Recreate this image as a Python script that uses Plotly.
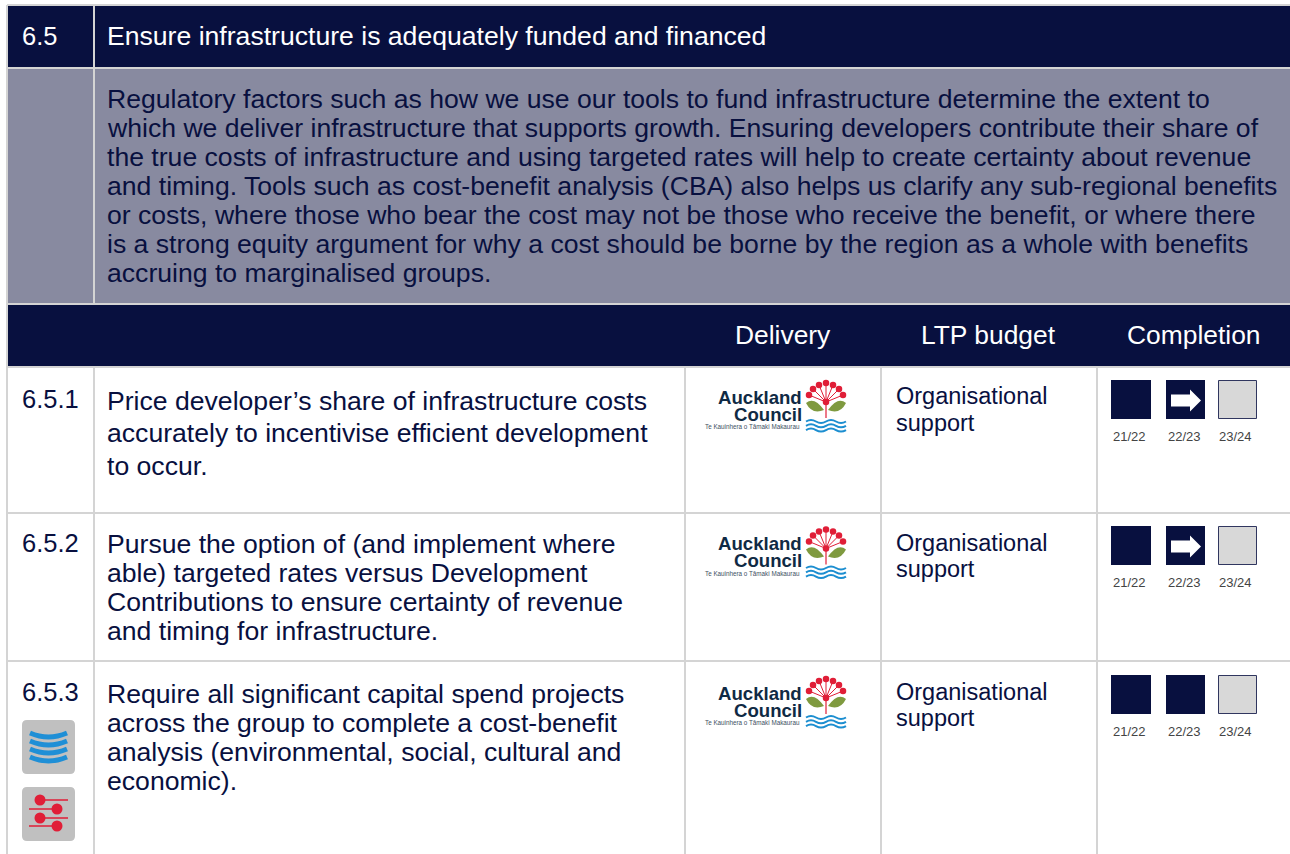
import plotly.graph_objects as go

NAVY = "#08103f"
SLATE = "#888aa0"
LINE = "#d4d4d4"
FONT = "Liberation Sans"
BODY = 26.6

section_no = "6.5"
section_title = "Ensure infrastructure is adequately funded and financed"
intro_lines = [
    "Regulatory factors such as how we use our tools to fund infrastructure determine the extent to",
    "which we deliver infrastructure that supports growth. Ensuring developers contribute their share of",
    "the true costs of infrastructure and using targeted rates will help to create certainty about revenue",
    "and timing. Tools such as cost-benefit analysis (CBA) also helps us clarify any sub-regional benefits",
    "or costs, where those who bear the cost may not be those who receive the benefit, or where there",
    "is a strong equity argument for why a cost should be borne by the region as a whole with benefits",
    "accruing to marginalised groups.",
]
intro_y = [99, 128, 157, 186, 215, 244, 273]
headers = ["Delivery", "LTP budget", "Completion"]
header_x = [734, 920, 1126]
row_ids = ["6.5.1", "6.5.2", "6.5.3"]
row_id_y = [399, 543, 692]
row_text = [
    ["Price developer’s share of infrastructure costs", "accurately to incentivise efficient development", "to occur."],
    ["Pursue the option of (and implement where", "able) targeted rates versus Development", "Contributions to ensure certainty of revenue", "and timing for infrastructure."],
    ["Require all significant capital spend projects", "across the group to complete a cost-benefit", "analysis (environmental, social, cultural and", "economic)."],
]
row_text_y = [[401, 433, 466], [544, 573, 602, 631], [694, 723, 752, 781]]
budget = ["Organisational", "support"]
budget_y = [[396, 423], [543, 569], [692, 718]]
logo_offset = [0, 146.5, 296]
years = ["21/22", "22/23", "23/24"]
status = [["done", "progress", "todo"], ["done", "progress", "todo"], ["done", "done", "todo"]]
square_top = [380, 526, 675]
square_x = [(1111, 1151), (1166, 1205), (1218, 1257)]
year_y = [436, 582, 731]
year_x = [1129, 1184, 1235]
row_lines_y = [513, 661]
col_lines_x = [7, 94, 685, 881, 1097]

shapes, annos = [], []

def rect(x0, y0, x1, y1, fill, line=None, w=0):
    shapes.append(dict(type="rect", x0=x0, y0=y0, x1=x1, y1=y1, fillcolor=fill, layer="below",
                       line=dict(color=line or fill, width=w)))

def seg(x0, y0, x1, y1, color=LINE, w=2):
    shapes.append(dict(type="line", x0=x0, y0=y0, x1=x1, y1=y1, layer="below", line=dict(color=color, width=w)))

def path(d, fill=None, line=None, w=0):
    s = dict(type="path", path=d, layer="below", line=dict(color=line or "rgba(0,0,0,0)", width=w))
    if fill:
        s["fillcolor"] = fill
    shapes.append(s)

def text(x, y, t, size, color=NAVY, anchor="left", font=FONT, bold=False):
    annos.append(dict(x=x, y=y, text=f"<b>{t}</b>" if bold else t, showarrow=False, xanchor=anchor, yanchor="middle",
                      xref="x", yref="y", align="left", borderpad=0,
                      font=dict(family=font, size=size, color=color)))

# page frame
seg(7, 5, 1290, 5, LINE, 2)
rect(8, 6, 1290, 67, NAVY)
rect(8, 69, 1290, 303, SLATE)
rect(8, 305, 1290, 366, NAVY)
seg(94, 6, 94, 303, LINE, 2)
seg(7, 68, 1290, 68, LINE, 2)
seg(7, 304, 1290, 304, LINE, 2)
seg(7, 367, 1290, 367, LINE, 2)
seg(7, 5, 7, 854, LINE, 2)
for x in col_lines_x[1:]:
    seg(x, 367, x, 854, LINE, 2)
for y in row_lines_y:
    seg(7, y, 1290, y, LINE, 2)

text(20.5, 36, section_no, 25.5, "white")
text(106, 36, section_title, BODY, "white")
for t, y in zip(intro_lines, intro_y):
    text(106, y, t, BODY)
for t, x in zip(headers, header_x):
    text(x, 335, t, 26.4, "white")

RED = "#e01e37"
GREEN = "#7f9a3f"
BLUE = "#1c8ed0"
logo_dots_x, logo_dots_y = [], []
petals_dx = [-17, -13, -7, 0, 7, 13, 17]
petals_dy = [-7, -13, -17, -19, -17, -13, -7]
for i in range(3):
    off = logo_offset[i]
    cy = 402 + off
    # wordmark
    text(803, 397 + off, "Auckland", 18.6, "#0f2a44", "right", bold=True)
    text(803, 414 + off, "Council", 18.6, "#0f2a44", "right", bold=True)
    text(801, 426.5 + off, "Te Kauinhera o Tāmaki Makaurau", 6.3, "#40505f", "right")
    # stamens
    for dx, dy in zip(petals_dx, petals_dy):
        seg(826, cy, 826 + dx, cy + dy, RED, 1)
        logo_dots_x.append(826 + dx)
        logo_dots_y.append(cy + dy)
    logo_dots_x.append(826)
    logo_dots_y.append(cy)
    seg(826, cy, 826, cy + 16, RED, 1.2)
    # leaves
    path(f"M 806 {cy+1} Q 814 {cy-6} 824 {cy+8} Q 812 {cy+13} 806 {cy+1} Z", GREEN)
    path(f"M 846 {cy+1} Q 838 {cy-6} 828 {cy+8} Q 840 {cy+13} 846 {cy+1} Z", GREEN)
    # waves
    for k in range(3):
        y = cy + 18.5 + k * 4.3
        path(f"M 806 {y+1} Q 811 {y-2} 816 {y+1} T 826 {y+1} T 836 {y+1} T 846 {y+1}", None, BLUE, 2)

    # row text
    text(20.5, row_id_y[i], row_ids[i], 25.5)
    for t, y in zip(row_text[i], row_text_y[i]):
        text(106, y, t, BODY)
    for t, y in zip(budget, budget_y[i]):
        text(895, y, t, 23.5)
    top = square_top[i]
    for (x0, x1), st, yr, xc in zip(square_x, status[i], years, year_x):
        if st == "todo":
            rect(x0 + .5, top + .5, x1 - .5, top + 38.5, "#d8d8d8", "#30365f", 1)
        else:
            rect(x0, top, x1, top + 39, NAVY)
        if st == "progress":
            ym = top + 20.5
            path(f"M {x0+5} {ym-6} L {x0+24} {ym-6} L {x0+24} {ym-11} L {x0+35} {ym} L {x0+24} {ym+11} "
                 f"L {x0+24} {ym+6} L {x0+5} {ym+6} Z", "white")
        text(xc, year_y[i], yr, 13, "#444444", "center")

# performance icons next to 6.5.3
def rounded(x0, y0, x1, y1, r, fill):
    path(f"M {x0+r} {y0} L {x1-r} {y0} Q {x1} {y0} {x1} {y0+r} L {x1} {y1-r} Q {x1} {y1} {x1-r} {y1} "
         f"L {x0+r} {y1} Q {x0} {y1} {x0} {y1-r} L {x0} {y0+r} Q {x0} {y0} {x0+r} {y0} Z", fill)

rounded(22, 720, 75, 774, 5, "#c0c0c0")
for y in [733, 741, 749, 757]:
    path(f"M 30 {y} Q 48.5 {y+8} 67 {y}", None, "#1f8fd6", 4.8)
rounded(22, 787, 75, 841, 5, "#c0c0c0")
slider_y = [800, 809, 818, 826]
slider_line = [(36, 68), (29, 62), (36, 68), (29, 62)]
slider_dot_x = [40, 57, 40, 57]
for y, (a, b) in zip(slider_y, slider_line):
    seg(a, y, b, y, RED, 1.5)

fig = go.Figure()
fig.add_trace(go.Scatter(x=logo_dots_x, y=logo_dots_y, mode="markers", hoverinfo="skip",
                         marker=dict(size=6.5, color=RED, line=dict(width=0))))
fig.add_trace(go.Scatter(x=slider_dot_x, y=slider_y, mode="markers", hoverinfo="skip",
                         marker=dict(size=11, color=RED, line=dict(width=0))))
fig.update_layout(width=1290, height=854, margin=dict(l=0, r=0, t=0, b=0), showlegend=False,
                  paper_bgcolor="white", plot_bgcolor="white", shapes=shapes, annotations=annos,
                  xaxis=dict(range=[0, 1290], visible=False, fixedrange=True),
                  yaxis=dict(range=[854, 0], visible=False, fixedrange=True))
fig.write_html("out.html", config=dict(displayModeBar=False), post_script="document.body.style.margin='0';document.body.style.overflow='hidden';")
